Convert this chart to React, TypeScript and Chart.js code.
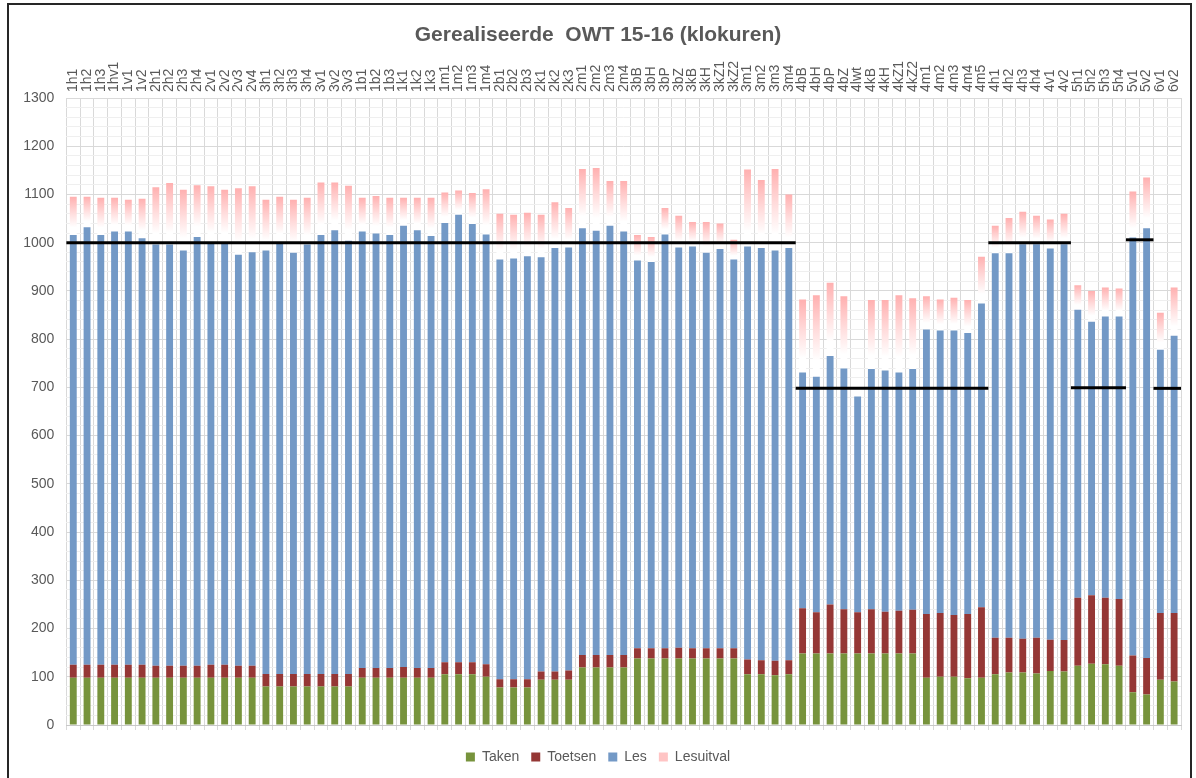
import React, { useEffect, useRef } from 'react';
import { Chart, registerables } from 'chart.js';

Chart.register(...registerables);

const categories = [
  '1h1', '1h2', '1h3', '1hv1', '1v1', '1v2',
  '2h1', '2h2', '2h3', '2h4', '2v1', '2v2', '2v3', '2v4',
  '3h1', '3h2', '3h3', '3h4', '3v1', '3v2', '3v3',
  '1b1', '1b2', '1b3', '1k1', '1k2', '1k3',
  '1m1', '1m2', '1m3', '1m4',
  '2b1', '2b2', '2b3', '2k1', '2k2', '2k3',
  '2m1', '2m2', '2m3', '2m4',
  '3bB', '3bH', '3bP', '3bZ', '3kB', '3kH', '3kZ1', '3kZ2',
  '3m1', '3m2', '3m3', '3m4',
  '4bB', '4bH', '4bP', '4bZ', '4lwt', '4kB', '4kH', '4kZ1', '4kZ2',
  '4m1', '4m2', '4m3', '4m4', '4m5',
  '4h1', '4h2', '4h3', '4h4', '4v1', '4v2',
  '5h1', '5h2', '5h3', '5h4',
  '5v1', '5v2',
  '6v1', '6v2',
];

const taken = [
  98, 98, 98, 98, 98, 98,
  98, 98, 98, 98, 98, 98, 98, 98,
  80, 80, 80, 80, 80, 80, 80,
  98, 98, 98, 98, 98, 98,
  105, 105, 105, 100,
  78, 78, 78, 94, 94, 94,
  119, 119, 119, 119,
  138, 138, 138, 138, 138, 138, 138, 138,
  105, 105, 103, 105,
  148, 148, 148, 148, 148, 148, 148, 148, 148,
  98, 100, 100, 97, 98,
  105, 109, 109, 107, 112, 111,
  123, 127, 126, 123,
  68, 63,
  94, 90,
];

const toetsen = [
  27, 27, 27, 27, 27, 27,
  25, 25, 25, 25, 27, 27, 25, 25,
  26, 26, 26, 26, 26, 26, 26,
  20, 20, 20, 22, 20, 20,
  25, 25, 25, 26,
  17, 17, 17, 17, 17, 19,
  26, 26, 26, 26,
  21, 21, 21, 22, 21, 21, 21, 21,
  31, 29, 30, 29,
  94, 86, 102, 92, 86, 92, 87, 89, 91,
  132, 132, 128, 133, 146,
  76, 72, 70, 74, 65, 65,
  141, 142, 138, 138,
  76, 76,
  138, 142,
];

const les = [
  891, 907, 891, 898, 898, 884,
  873, 873, 861, 889, 873, 873, 852, 857,
  878, 894, 873, 890, 910, 920, 898,
  905, 901, 898, 915, 908, 896,
  911, 928, 909, 891,
  870, 872, 877, 859, 878, 877,
  885, 880, 890, 878,
  804, 801, 858, 830, 833, 820, 828, 806,
  856, 855, 851, 855,
  489, 488, 515, 499, 447, 498, 500, 494, 499,
  590, 586, 590, 583, 630,
  797, 797, 818, 816, 811, 821,
  597, 567, 583, 586,
  867, 891,
  546, 575,
];

const lesuitval = [
  79, 63, 77, 70, 66, 82,
  119, 128, 126, 107, 119, 112, 138, 137,
  105, 95, 110, 97, 109, 99, 114,
  70, 78, 77, 58, 67, 79,
  63, 50, 64, 94,
  95, 91, 90, 88, 95, 82,
  123, 130, 93, 105,
  53, 52, 55, 66, 51, 64, 53, 41,
  160, 141, 169, 111,
  151, 169, 152, 150, 0, 143, 146, 160, 147,
  69, 64, 68, 68, 97,
  57, 73, 67, 59, 60, 63,
  51, 64, 60, 58,
  95, 105,
  77, 100,
];

const normFrom = ['1h1', '4bB', '4h1', '5h1', '5v1', '6v1'];
const normTo = ['3m4', '4m5', '4v2', '5h4', '5v2', '6v2'];
const normValue = [1000, 698, 1000, 699, 1006, 698];

const seriesNames = ['Taken', 'Toetsen', 'Les', 'Lesuitval'];
const seriesColors = ['#77933c', '#953735', '#7399c6', '#ffc4c4'];
const yMin = 0;
const yMax = 1300;
const yMajorStep = 100;
const yMinorStep = 20;

const TEXT = '#595959';
const FONT = "'Liberation Sans', Arial, sans-serif";
const PINK_TOP = '#ffb0b0';
const X_FONT_SIZE = 14;

const normPlugin = {
  id: 'normLines',
  afterDatasetsDraw(chart: any) {
    const xs = chart.scales.x;
    const ys = chart.scales.y;
    const ctx = chart.ctx;
    const half = (xs.getPixelForValue(1) - xs.getPixelForValue(0)) / 2;
    ctx.save();
    ctx.strokeStyle = '#000000';
    ctx.lineWidth = 3;
    normFrom.forEach((from, k) => {
      const i0 = categories.indexOf(from);
      const i1 = categories.indexOf(normTo[k]);
      const yy = ys.getPixelForValue(normValue[k]);
      ctx.beginPath();
      ctx.moveTo(xs.getPixelForValue(i0) - half, yy);
      ctx.lineTo(xs.getPixelForValue(i1) + half, yy);
      ctx.stroke();
    });
    ctx.restore();
  },
};

function pinkGradient(c: any) {
  if (!c || c.type !== 'data' || c.dataIndex === undefined) return seriesColors[3];
  const chart = c.chart;
  const ys = chart.scales && chart.scales.y;
  if (!ys) return PINK_TOP;
  const i = c.dataIndex;
  const base = taken[i] + toetsen[i] + les[i];
  const top = base + lesuitval[i];
  const y0 = ys.getPixelForValue(top);
  const y1 = ys.getPixelForValue(base);
  if (!isFinite(y0) || !isFinite(y1) || y1 - y0 < 1) return PINK_TOP;
  const g = chart.ctx.createLinearGradient(0, y0, 0, y1);
  g.addColorStop(0, PINK_TOP);
  g.addColorStop(0.45, '#ffdede');
  g.addColorStop(0.8, '#ffffff');
  g.addColorStop(1, '#ffffff');
  return g;
}

export default function App() {
  const canvasRef = useRef<HTMLCanvasElement | null>(null);

  useEffect(() => {
    if (!canvasRef.current) return;
    Chart.defaults.font.family = FONT;
    const common = { stack: 's', barPercentage: 0.5, categoryPercentage: 1.0, borderWidth: 0 };
    const chart = new Chart(canvasRef.current, {
      type: 'bar',
      data: {
        labels: categories,
        datasets: [
          { label: seriesNames[0], data: taken, backgroundColor: seriesColors[0], ...common },
          { label: seriesNames[1], data: toetsen, backgroundColor: seriesColors[1], ...common },
          { label: seriesNames[2], data: les, backgroundColor: seriesColors[2], ...common },
          { label: seriesNames[3], data: lesuitval, backgroundColor: pinkGradient as any, ...common },
        ],
      },
      options: {
        animation: false,
        responsive: true,
        maintainAspectRatio: false,
        devicePixelRatio: 1,
        layout: { padding: { left: 15, right: 15, top: 0, bottom: 4 } },
        plugins: {
          title: {
            display: true,
            text: 'Gerealiseerde  OWT 15-16 (klokuren)',
            color: TEXT,
            font: { family: FONT, size: 21, weight: 'bold' },
            padding: { top: 23, bottom: 0 },
          },
          legend: {
            position: 'bottom',
            labels: {
              color: TEXT,
              font: { family: FONT, size: 14 },
              boxWidth: 9,
              boxHeight: 9,
              padding: 12,
              generateLabels: (ch: any) =>
                ch.data.datasets.map((ds: any, i: number) => ({
                  text: ds.label,
                  fillStyle: seriesColors[i],
                  strokeStyle: seriesColors[i],
                  lineWidth: 0,
                  fontColor: TEXT,
                  hidden: !ch.isDatasetVisible(i),
                  datasetIndex: i,
                })),
            },
          },
          tooltip: { enabled: false },
        },
        scales: {
          x: {
            type: 'category',
            position: 'top',
            stacked: true,
            offset: true,
            grid: { color: '#d9d9d9', offset: true, drawTicks: false },
            border: { color: '#d9d9d9' },
            ticks: {
              color: TEXT,
              font: { family: FONT, size: X_FONT_SIZE },
              maxRotation: 90,
              minRotation: 90,
              autoSkip: false,
              padding: 6,
              labelOffset: X_FONT_SIZE * 1.2,
            },
            afterFit: (s: any) => { s.height = 49.8; },
          },
          x2: {
            type: 'category',
            position: 'bottom',
            offset: true,
            grid: { color: '#d9d9d9', offset: true, drawOnChartArea: false, drawTicks: true, tickLength: 5 },
            border: { color: '#c8c8c8' },
            ticks: { display: false },
            afterFit: (s: any) => { s.height = 13; },
          },
          y: {
            type: 'linear',
            stacked: true,
            min: yMin,
            max: yMax,
            grid: {
              color: (c: any) => (c.tick && c.tick.value % yMajorStep === 0 ? '#d9d9d9' : '#efefef'),
              drawTicks: false,
            },
            border: { display: false },
            ticks: {
              stepSize: yMinorStep,
              autoSkip: false,
              color: TEXT,
              font: { family: FONT, size: 14 },
              padding: 12,
              callback: (v: any) => (Number(v) % yMajorStep === 0 ? String(v) : ''),
            },
            afterFit: (s: any) => { s.width = 51.4; },
          },
        },
      },
      plugins: [normPlugin],
    } as any);
    return () => chart.destroy();
  }, []);

  return (
    <div style={{ position: 'absolute', left: 0, top: 0, width: 1196, height: 778, background: '#ffffff', overflow: 'hidden' }}>
      <canvas ref={canvasRef} style={{ display: 'block' }} />
      <div
        style={{
          position: 'absolute',
          left: 7,
          top: 3,
          width: 1185,
          height: 800,
          border: '2px solid #262626',
          boxSizing: 'border-box',
          pointerEvents: 'none',
        }}
      />
    </div>
  );
}
